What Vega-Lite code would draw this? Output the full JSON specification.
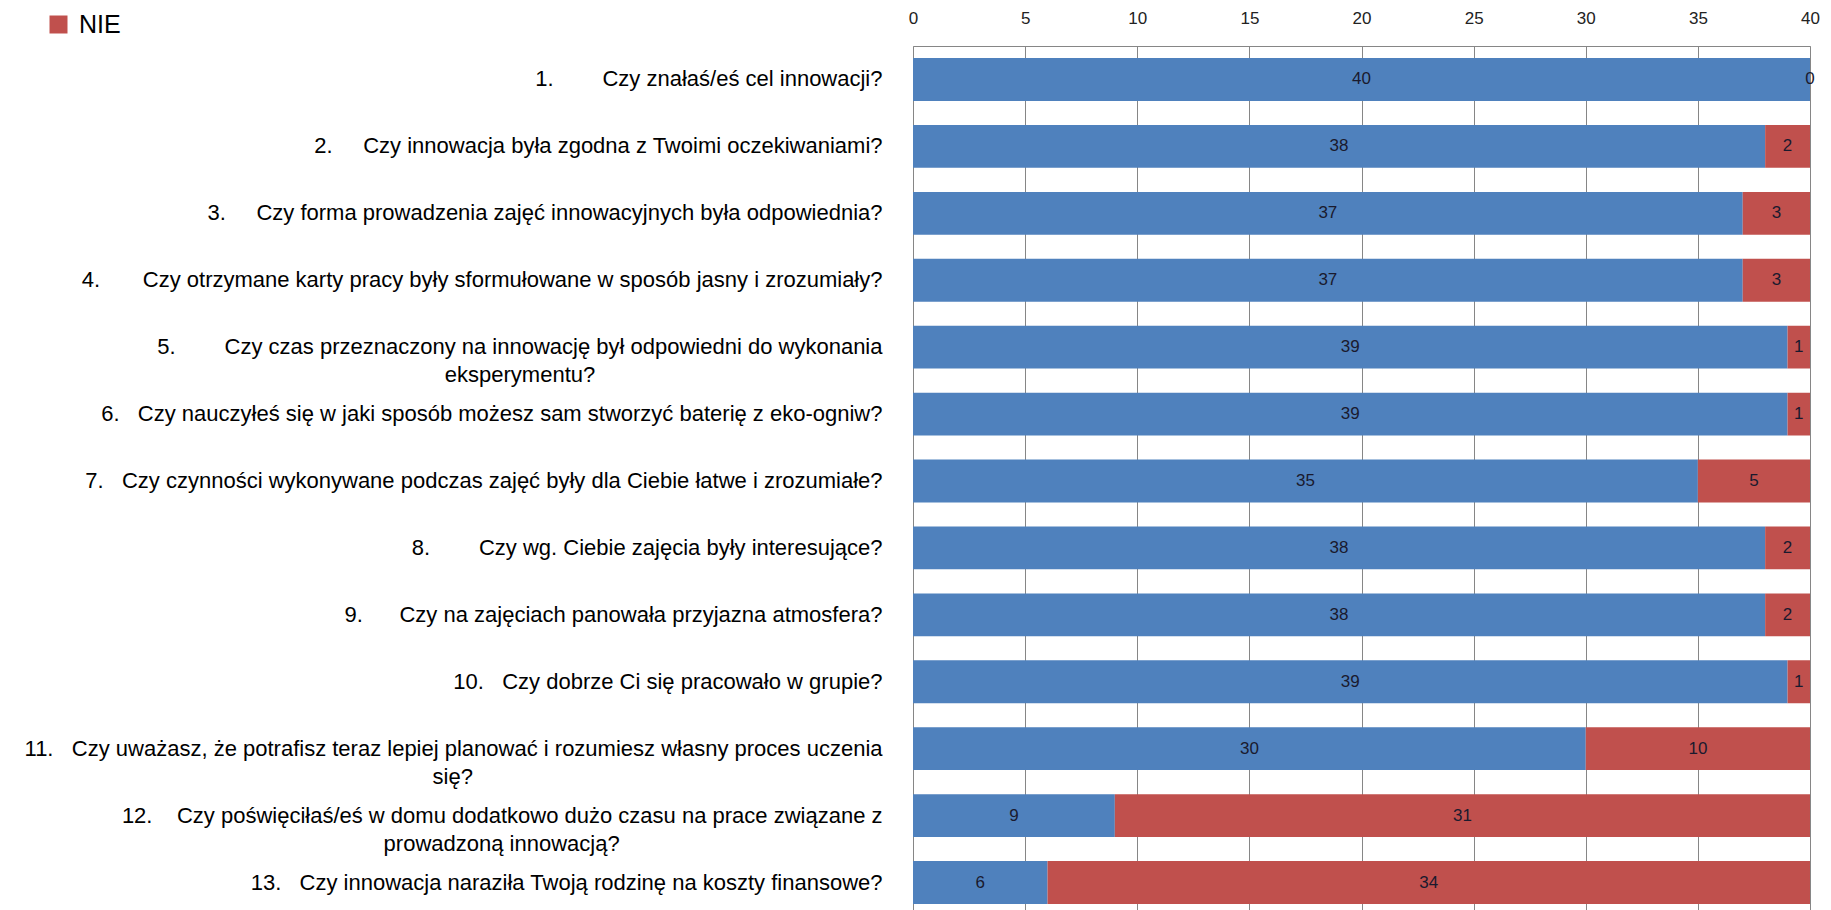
{
  "$schema": "https://vega.github.io/schema/vega-lite/v6.json",
  "width": 897,
  "height": 864,
  "autosize": {"type": "none"},
  "padding": {"left": 913, "top": 46, "right": 21, "bottom": 0},
  "background": "white",
  "config": {
    "view": {"stroke": "#868686", "strokeWidth": 1},
    "font": "Liberation Sans"
  },
  "data": {
    "values": [
      {"pytanie": "1.\u00a0\u00a0\u00a0\u00a0\u00a0\u00a0\u00a0\u00a0Czy znałaś/eś cel innowacji?", "TAK": 40, "NIE": 0},
      {"pytanie": "2.\u00a0\u00a0\u00a0\u00a0\u00a0Czy innowacja była zgodna z Twoimi oczekiwaniami?", "TAK": 38, "NIE": 2},
      {"pytanie": "3.\u00a0\u00a0\u00a0\u00a0\u00a0Czy forma prowadzenia zajęć innowacyjnych była odpowiednia?", "TAK": 37, "NIE": 3},
      {"pytanie": "4.\u00a0\u00a0\u00a0\u00a0\u00a0\u00a0\u00a0Czy otrzymane karty pracy były sformułowane w sposób jasny i zrozumiały?", "TAK": 37, "NIE": 3},
      {"pytanie": "5.\u00a0\u00a0\u00a0\u00a0\u00a0\u00a0\u00a0\u00a0Czy czas przeznaczony na innowację był odpowiedni do wykonania|eksperymentu?\u00a0\u00a0\u00a0\u00a0\u00a0\u00a0\u00a0\u00a0\u00a0\u00a0\u00a0\u00a0\u00a0\u00a0\u00a0\u00a0\u00a0\u00a0\u00a0\u00a0\u00a0\u00a0\u00a0\u00a0\u00a0\u00a0\u00a0\u00a0\u00a0\u00a0\u00a0\u00a0\u00a0\u00a0\u00a0\u00a0\u00a0\u00a0\u00a0\u00a0\u00a0\u00a0\u00a0\u00a0\u00a0\u00a0\u00a0\u200b", "TAK": 39, "NIE": 1},
      {"pytanie": "6.\u00a0\u00a0\u00a0Czy nauczyłeś się w jaki sposób możesz sam stworzyć baterię z eko-ogniw?", "TAK": 39, "NIE": 1},
      {"pytanie": "7.\u00a0\u00a0\u00a0Czy czynności wykonywane podczas zajęć były dla Ciebie łatwe i zrozumiałe?", "TAK": 35, "NIE": 5},
      {"pytanie": "8.\u00a0\u00a0\u00a0\u00a0\u00a0\u00a0\u00a0\u00a0Czy wg. Ciebie zajęcia były interesujące?", "TAK": 38, "NIE": 2},
      {"pytanie": "9.\u00a0\u00a0\u00a0\u00a0\u00a0\u00a0Czy na zajęciach panowała przyjazna atmosfera?", "TAK": 38, "NIE": 2},
      {"pytanie": "10.\u00a0\u00a0\u00a0Czy dobrze Ci się pracowało w grupie?", "TAK": 39, "NIE": 1},
      {"pytanie": "11.\u00a0\u00a0\u00a0Czy uważasz, że potrafisz teraz lepiej planować i rozumiesz własny proces uczenia|się?\u00a0\u00a0\u00a0\u00a0\u00a0\u00a0\u00a0\u00a0\u00a0\u00a0\u00a0\u00a0\u00a0\u00a0\u00a0\u00a0\u00a0\u00a0\u00a0\u00a0\u00a0\u00a0\u00a0\u00a0\u00a0\u00a0\u00a0\u00a0\u00a0\u00a0\u00a0\u00a0\u00a0\u00a0\u00a0\u00a0\u00a0\u00a0\u00a0\u00a0\u00a0\u00a0\u00a0\u00a0\u00a0\u00a0\u00a0\u00a0\u00a0\u00a0\u00a0\u00a0\u00a0\u00a0\u00a0\u00a0\u00a0\u00a0\u00a0\u00a0\u00a0\u00a0\u00a0\u00a0\u00a0\u00a0\u00a0\u200b", "TAK": 30, "NIE": 10},
      {"pytanie": "12.\u00a0\u00a0\u00a0\u00a0Czy poświęciłaś/eś w domu dodatkowo dużo czasu na prace związane z|prowadzoną innowacją?\u00a0\u00a0\u00a0\u00a0\u00a0\u00a0\u00a0\u00a0\u00a0\u00a0\u00a0\u00a0\u00a0\u00a0\u00a0\u00a0\u00a0\u00a0\u00a0\u00a0\u00a0\u00a0\u00a0\u00a0\u00a0\u00a0\u00a0\u00a0\u00a0\u00a0\u00a0\u00a0\u00a0\u00a0\u00a0\u00a0\u00a0\u00a0\u00a0\u00a0\u00a0\u00a0\u00a0\u200b", "TAK": 9, "NIE": 31},
      {"pytanie": "13.\u00a0\u00a0\u00a0Czy innowacja naraziła Twoją rodzinę na koszty finansowe?", "TAK": 6, "NIE": 34}
    ]
  },
  "transform": [
    {"fold": ["TAK", "NIE"], "as": ["odpowiedz", "liczba"]}
  ],
  "encoding": {
    "y": {
      "field": "pytanie",
      "type": "nominal",
      "sort": null,
      "scale": {"range": [0, 870], "paddingInner": 0.36, "paddingOuter": 0.18},
      "axis": {
        "title": null,
        "domain": false,
        "ticks": false,
        "labelPadding": 31,
        "labelFont": "Liberation Sans",
        "labelFontSize": 22,
        "labelColor": "#000000",
        "labelLimit": 1000,
        "labelLineHeight": 28,
        "labelOverlap": false,
        "labelExpr": "split(datum.label, '|')"
      }
    },
    "order": {"field": "odpowiedz", "type": "nominal", "sort": "descending"}
  },
  "layer": [
    {
      "mark": {"type": "bar"},
      "encoding": {
        "x": {
          "field": "liczba",
          "type": "quantitative",
          "stack": "zero",
          "scale": {"domain": [0, 40], "nice": false},
          "axis": {
            "orient": "top",
            "title": null,
            "values": [0, 5, 10, 15, 20, 25, 30, 35, 40],
            "domain": false,
            "ticks": false,
            "grid": true,
            "gridColor": "#868686",
            "gridWidth": 1,
            "gridOpacity": 1,
            "labelPadding": 19,
            "labelFont": "Liberation Sans",
            "labelFontSize": 17,
            "labelColor": "#222222",
            "labelFlush": false
          }
        },
        "color": {
          "field": "odpowiedz",
          "type": "nominal",
          "scale": {"domain": ["TAK", "NIE"], "range": ["#4F81BD", "#C0504D"]},
          "legend": {
            "values": ["NIE"],
            "title": null,
            "orient": "none",
            "legendX": -867,
            "legendY": -34,
            "symbolType": "square",
            "symbolSize": 324,
            "symbolStrokeWidth": 0,
            "labelFont": "Liberation Sans",
            "labelFontSize": 25,
            "labelColor": "#000000",
            "labelOffset": 8
          }
        }
      }
    },
    {
      "mark": {"type": "text", "font": "Liberation Sans", "fontSize": 17, "color": "#1a1a2e", "baseline": "middle", "align": "center"},
      "encoding": {
        "x": {"field": "liczba", "type": "quantitative", "stack": "zero", "bandPosition": 0.5},
        "detail": {"field": "odpowiedz", "type": "nominal"},
        "text": {"field": "liczba", "type": "quantitative"}
      }
    }
  ]
}
